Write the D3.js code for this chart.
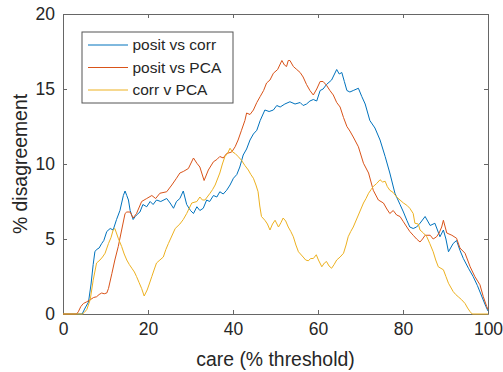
<!DOCTYPE html>
<html>
<head>
<meta charset="utf-8">
<script src="https://cdn.jsdelivr.net/npm/d3@7"></script>
<style>
  body { margin: 0; background: #fff; }
  svg text { font-family: "Liberation Sans", Arial, sans-serif; fill: #262626; }
</style>
</head>
<body>
<svg id="chart" width="503" height="372"></svg>
<script>
// series: [care %, % disagreement]
let positVsCorr = [[0,0],[4.5,0],[5.2,0.4],[6,0.8],[6.6,2.0],[7.1,3.3],[7.5,4.15],[7.9,4.3],[8.5,4.4],[9.1,4.7],[9.6,4.9],[10.3,5.5],[11.1,5.7],[11.8,5.6],[12.6,6.3],[13.4,6.9],[14.2,7.9],[14.6,8.2],[15.0,7.9],[15.4,7.6],[15.8,6.9],[16.5,6.3],[17.0,6.5],[17.3,6.6],[18.1,6.8],[18.8,7.3],[19.7,7.15],[20.5,7.5],[21.2,7.3],[22,7.6],[23,7.5],[24.4,7.7],[25.2,7.4],[26,7.05],[26.7,7.5],[27.5,7.7],[28.3,8.2],[29.1,7.3],[30.0,6.9],[30.7,6.7],[31.5,7.15],[32.2,6.9],[33,7.05],[33.8,7.6],[34.5,7.5],[35.4,7.9],[36.2,7.8],[36.9,8.15],[37.7,8.0],[38.5,8.25],[39.3,8.6],[40.1,9.05],[40.9,9.3],[41.6,9.8],[42.4,10.6],[43.2,11.0],[44,11.6],[44.8,12.0],[45.6,12.25],[46.4,12.9],[47.5,13.6],[48.5,13.5],[49.5,13.6],[50.3,13.9],[51.1,13.8],[52.2,14.0],[53.4,14.15],[54.6,14.0],[55.8,14.1],[56.5,13.9],[57.3,14.0],[58.1,14.2],[58.9,14.3],[59.7,14.2],[60.5,14.9],[61.2,15.0],[62,15.3],[63.2,15.6],[64.4,16.3],[65.0,16.0],[65.6,16.1],[66.2,15.5],[66.8,14.9],[67.5,14.8],[68.3,14.9],[69.5,15.05],[70.3,14.5],[71.1,14.0],[72.2,12.9],[73.4,12.4],[74.6,11.6],[75.8,10.5],[76.9,9.4],[78.1,8.05],[79.3,7.3],[80.1,6.8],[80.9,6.25],[81.6,5.8],[82.4,5.7],[83.2,5.8],[84,6.05],[85.2,6.5],[86.4,5.9],[87.5,6.05],[88.1,5.6],[88.7,5.15],[89.5,5.6],[90.1,5.0],[90.7,4.15],[91.8,4.7],[92.6,4.9],[93.4,4.25],[94.2,3.7],[95.4,3.05],[96.5,2.5],[97.5,1.9],[98.5,1.2],[99.5,0.5],[100,0.2]];

let positVsPCA = [[0,0],[3.2,0],[3.6,0.15],[4.2,0.5],[4.8,0.7],[5.5,0.8],[6.4,0.95],[7.2,1.1],[7.9,1.15],[8.5,1.3],[9.1,1.4],[9.7,1.35],[10.3,1.4],[10.7,1.7],[11.5,2.7],[12.2,3.6],[13,4.5],[13.8,5.6],[14.6,6.7],[15,6.8],[15.8,6.8],[16.5,6.4],[17.3,6.7],[18.5,7.5],[19.7,7.7],[20.9,7.9],[21.8,7.7],[22.8,8.05],[24.4,8.15],[25.6,8.6],[26.7,9.05],[27.5,9.4],[28.3,9.5],[29.5,9.7],[30.7,10.4],[31.5,10.05],[32.2,9.8],[33.2,8.9],[34.2,9.6],[35.4,10.15],[36.2,10.3],[36.9,10.5],[37.7,10.4],[38.5,10.7],[39.7,10.8],[40.5,11.15],[41.2,11.6],[42,12.25],[42.8,12.9],[43.2,13.4],[44,13.3],[44.8,13.6],[45.6,14.1],[46.4,14.5],[47.2,14.9],[47.9,15.4],[48.7,15.6],[49.5,16.05],[50.5,16.3],[51.5,16.9],[52.1,16.6],[52.6,16.5],[53.0,16.9],[53.4,16.9],[54.2,16.5],[55,16.3],[55.8,16.1],[56.5,15.8],[57.3,15.3],[58.1,14.9],[58.9,14.6],[59.7,15.0],[60.5,15.5],[61.2,15.5],[62,15.25],[62.8,14.9],[63.6,14.6],[64.4,14.1],[65.2,13.8],[66,13.1],[66.8,12.5],[67.5,12.2],[68.3,11.8],[69.5,11.15],[70.7,10.05],[71.9,9.4],[73,8.25],[74.2,7.6],[75.4,7.4],[76.2,7.0],[76.9,6.7],[77.7,6.9],[78.5,6.6],[79.3,6.5],[80.1,6.15],[80.9,5.8],[81.6,5.5],[82.4,5.25],[83.2,5.0],[84,4.8],[84.6,5.0],[85.2,5.25],[86.4,5.25],[87.1,5.0],[87.9,5.15],[88.5,5.4],[89.1,5.8],[89.5,6.25],[90.3,5.4],[91.5,5.25],[92.6,5.05],[93.4,4.4],[94.6,4.05],[95.8,3.15],[96.9,2.5],[98.1,1.95],[98.9,1.15],[99.7,0.5],[100,0.3]];

let corrVsPCA = [[0,0],[4.6,0],[5.0,0.1],[5.6,0.3],[6.4,0.95],[7.1,2.25],[7.9,3.4],[8.7,3.6],[9.3,3.8],[9.9,4.05],[10.7,4.7],[11.3,5.1],[11.8,5.6],[12.2,5.7],[13,5.05],[13.8,4.5],[14.4,4.0],[15,3.6],[15.6,3.3],[16.2,3.05],[16.8,2.8],[17.3,2.5],[17.9,2.1],[18.5,1.7],[19.1,1.2],[19.8,1.6],[20.3,2.0],[20.9,2.5],[21.5,3.0],[22,3.4],[22.8,3.6],[23.6,3.8],[24.2,4.3],[24.8,4.7],[25.6,5.2],[26.4,5.7],[27.5,6.0],[28.3,6.3],[29.1,6.7],[30.3,7.4],[31.5,7.5],[32.2,7.8],[32.8,7.6],[33.4,7.6],[34.6,8.05],[35.2,8.3],[35.8,8.6],[36.9,9.4],[37.5,10.0],[38.1,10.5],[38.7,10.7],[39.3,11.05],[39.9,10.8],[40.5,10.7],[41.2,10.5],[42,10.25],[42.8,9.9],[43.6,9.6],[44.2,9.3],[44.8,9.05],[45.4,8.6],[45.9,8.15],[46.3,7.2],[46.7,6.5],[47.5,6.25],[48.1,6.0],[48.7,5.6],[49.3,6.0],[49.9,6.25],[50.7,5.8],[51.3,6.1],[51.8,6.4],[52.4,6.2],[53,5.8],[53.6,5.5],[54.2,5.15],[54.8,4.6],[55.4,4.15],[56.5,3.8],[57.1,3.6],[57.7,3.55],[58.3,3.7],[58.9,3.7],[59.6,3.95],[60.1,3.6],[60.9,3.15],[61.5,3.4],[62,3.5],[62.6,3.2],[63.2,3.05],[63.8,3.3],[64.4,3.6],[65.2,3.8],[66,4.05],[66.6,4.6],[67.1,5.15],[67.7,5.5],[68.3,5.8],[68.9,6.2],[69.5,6.6],[70.1,7.0],[70.7,7.4],[71.3,7.7],[71.9,8.05],[72.5,8.3],[73,8.5],[73.8,8.7],[74.6,8.95],[75.2,8.8],[75.8,8.85],[76.3,8.5],[76.9,8.25],[77.7,8.1],[78.5,7.8],[79.3,7.6],[80.1,7.4],[80.9,7.25],[81.6,7.05],[82.4,6.7],[82.8,6.05],[83.6,6.0],[84,5.6],[84.8,5.4],[85.6,5.15],[86.3,4.7],[87.1,4.15],[87.7,3.6],[88.3,3.15],[89.5,2.95],[90.1,2.5],[90.7,2.05],[91.2,1.8],[91.8,1.5],[92.4,1.3],[93,1.15],[93.8,0.95],[94.6,0.7],[95.2,0.4],[95.8,0.15],[96.3,0],[100,0]];

let seriesNames = ["posit vs corr", "posit vs PCA", "corr v PCA"];
let seriesColors = ["#0072BD", "#D95319", "#EDB120"];
let xTicks = [0, 20, 40, 60, 80, 100];
let yTicks = [0, 5, 10, 15, 20];

let svg = d3.select("#chart");
let pLeft = 63, pRight = 488, pTop = 14, pBottom = 314;

let x = d3.scaleLinear().domain([0, 100]).range([pLeft, pRight]);
let y = d3.scaleLinear().domain([0, 20]).range([pBottom, pTop]);

svg.append("defs").append("clipPath").attr("id", "plotClip")
  .append("rect").attr("x", pLeft).attr("y", pTop - 1)
  .attr("width", pRight - pLeft).attr("height", pBottom - pTop + 2);

// axes (MATLAB style: ticks inside, box on)
let axisColor = "#666";
let xAxis = svg.append("g").attr("transform", "translate(0," + pBottom + ")")
  .call(d3.axisBottom(x).tickValues(xTicks).tickSizeInner(-4).tickSizeOuter(0).tickPadding(9));
let yAxis = svg.append("g").attr("transform", "translate(" + pLeft + ",0)")
  .call(d3.axisLeft(y).tickValues(yTicks).tickSizeInner(-4).tickSizeOuter(0).tickPadding(8));
let xTop = svg.append("g").attr("transform", "translate(0," + pTop + ")")
  .call(d3.axisTop(x).tickValues(xTicks).tickSizeInner(-4).tickSizeOuter(0).tickFormat(""));
let yRight = svg.append("g").attr("transform", "translate(" + pRight + ",0)")
  .call(d3.axisRight(y).tickValues(yTicks).tickSizeInner(-4).tickSizeOuter(0).tickFormat(""));

[xAxis, yAxis, xTop, yRight].forEach(g => {
  g.select(".domain").attr("stroke", axisColor);
  g.selectAll(".tick line").attr("stroke", axisColor);
  g.selectAll("text").style("font-size", "17.5px").attr("fill", "#262626");
});

// lines
let line = d3.line().x(d => x(d[0])).y(d => y(d[1]));
let plot = svg.append("g").attr("clip-path", "url(#plotClip)");
[positVsCorr, positVsPCA, corrVsPCA].forEach((data, i) => {
  plot.append("path")
    .datum(data)
    .attr("fill", "none")
    .attr("stroke", seriesColors[i])
    .attr("stroke-width", 1)
    .attr("stroke-linejoin", "round")
    .attr("d", line);
});

// labels (MATLAB uses 1.1x the tick font)
svg.append("text")
  .attr("x", (pLeft + pRight) / 2).attr("y", 366)
  .attr("text-anchor", "middle")
  .style("font-size", "19.4px")
  .text("care (% threshold)");

svg.append("text")
  .attr("transform", "translate(27," + ((pTop + pBottom) / 2) + ") rotate(-90)")
  .attr("text-anchor", "middle")
  .style("font-size", "19.4px")
  .text("% disagreement");

// legend
let legend = svg.append("g");
legend.append("rect")
  .attr("x", 82).attr("y", 32).attr("width", 151).attr("height", 71)
  .attr("fill", "#fff").attr("stroke", "#555").attr("stroke-width", 1);
seriesNames.forEach((name, i) => {
  let cy = 45 + i * 22.5;
  legend.append("line")
    .attr("x1", 88).attr("x2", 128).attr("y1", cy).attr("y2", cy)
    .attr("stroke", seriesColors[i]).attr("stroke-width", 1);
  legend.append("text")
    .attr("x", 132.5).attr("y", cy).attr("dy", "0.35em")
    .style("font-size", "15.5px")
    .text(name);
});
</script>
</body>
</html>
